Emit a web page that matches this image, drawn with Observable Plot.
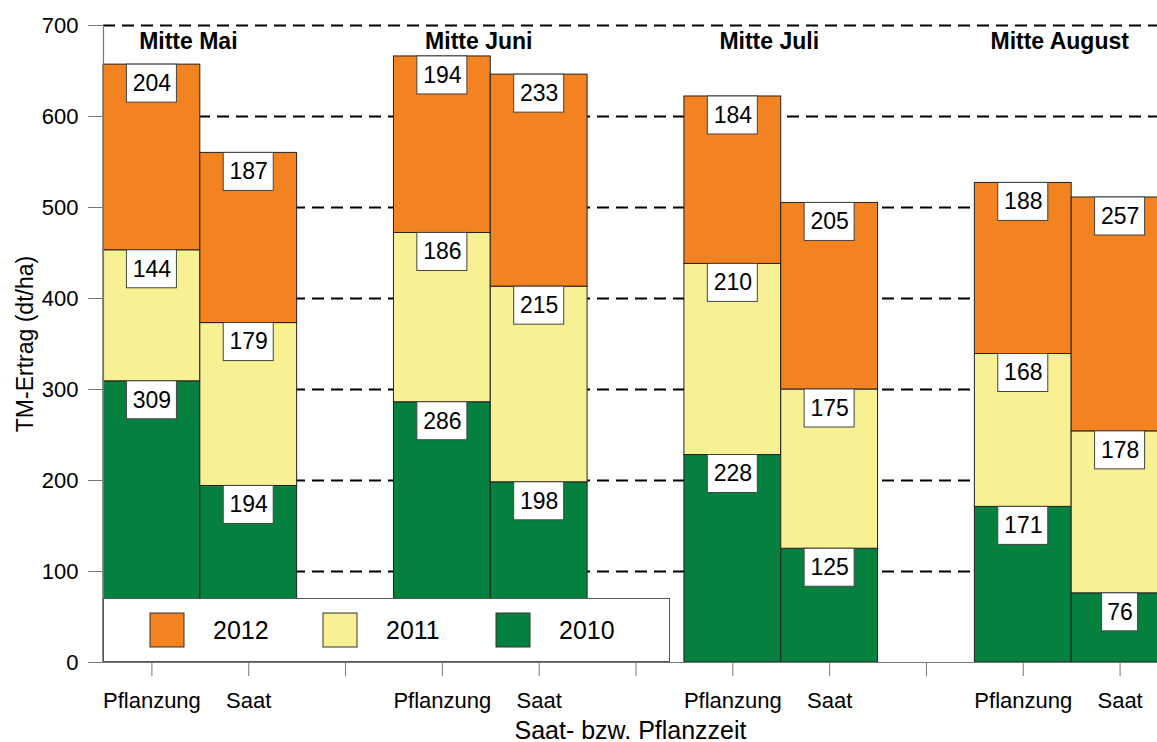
<!DOCTYPE html>
<html><head><meta charset="utf-8">
<script src="https://cdn.jsdelivr.net/npm/d3@7"></script>
<script src="https://cdn.jsdelivr.net/npm/@observablehq/plot@0.6"></script>
<style>
body{margin:0;background:#fff;font-family:"Liberation Sans",Arial,sans-serif;}
#wrap{position:relative;width:1157px;height:742px;overflow:hidden;}
#legend{position:absolute;left:103px;top:598px;width:567px;height:64px;box-sizing:border-box;border:1px solid #555;background:#fff;display:flex;align-items:center;padding-left:46px;}
#legend .lg-swatches{margin:0;font-family:"Liberation Sans",Arial,sans-serif;font-size:25px;color:#000;min-height:0;}
#legend .lg-swatch{margin:0;width:173px;}
#legend .lg-swatch > svg{margin-right:29px;}
#legend svg rect{stroke:#333;stroke-width:1;}
</style>
</head><body>
<div id="wrap"><div id="chart"></div><div id="legend"></div></div>
<script>
// ---- data ----
const groups = ["Mitte Mai", "Mitte Juni", "Mitte Juli", "Mitte August"];
const methods = ["Pflanzung", "Saat"];
const years = ["2010", "2011", "2012"];
const y2010 = [309, 194, 286, 198, 228, 125, 171, 76];
const y2011 = [144, 179, 186, 215, 210, 175, 168, 178];
const y2012 = [204, 187, 194, 233, 184, 205, 188, 257];
const yTicks = [0, 100, 200, 300, 400, 500, 600, 700];
const yTitle = "TM-Ertrag (dt/ha)";
const xTitle = "Saat- bzw. Pflanzzeit";
const colors = {"2010": "#04803F", "2011": "#F7F194", "2012": "#F38220"};

// ---- build table ----
const series = {"2010": y2010, "2011": y2011, "2012": y2012};
const rows = [];
const slotLabels = [];
for (let b = 0; b < y2010.length; b++) {
  const g = Math.floor(b / 2), m = b % 2, slot = 3 * g + m;
  let base = 0;
  for (const yr of years) {
    const v = series[yr][b];
    rows.push({slot, year: yr, value: v, bottom: base, top: base + v});
    base += v;
  }
}
const nSlots = 3 * groups.length - 1;
for (let s = 0; s < nSlots; s++) slotLabels.push(s % 3 === 2 ? "" : methods[s % 3]);

const font = '"Liberation Sans", Arial, sans-serif';
const boxMark = (filter, inset) => Plot.rect(rows.filter(filter), {
  x1: d => d.slot - 0.5, x2: d => d.slot + 0.5, y1: "top", y2: "top",
  insetLeft: inset, insetRight: inset, insetBottom: -38,
  fill: "white", stroke: "#444", strokeWidth: 1
});

const chart = Plot.plot({
  width: 1157, height: 742,
  marginLeft: 103, marginRight: 0, marginTop: 25, marginBottom: 80,
  x: {type: "linear", domain: [-0.5, nSlots - 0.5], range: [103, 1168]},
  y: {domain: [0, 700], range: [662, 25]},
  color: {domain: years, range: years.map(y => colors[y])},
  style: {fontFamily: font, fontSize: "22px", color: "#000", background: "#fff"},
  marks: [
    Plot.ruleY(yTicks.filter(t => t > 0), {stroke: "#000", strokeWidth: 1.8, strokeDasharray: "12,7"}),
    Plot.rect(rows, {x1: d => d.slot - 0.5, x2: d => d.slot + 0.5, y1: "bottom", y2: "top", fill: "year", stroke: "#222", strokeWidth: 1}),
    boxMark(d => d.value >= 100, 23.4),
    boxMark(d => d.value < 100, 30.4),
    Plot.text(rows, {x: "slot", y: "top", dy: 19, text: d => String(d.value), fontSize: 23, fill: "#000"}),
    Plot.text(groups, {x: (d, i) => 3 * i + 0.5, frameAnchor: "top", dy: 7, dx: -12, text: d => d, fontWeight: "bold", fontSize: 23, fill: "#000"}),
    Plot.ruleY([0], {stroke: "#777", strokeWidth: 1.2}),
    Plot.ruleX([-0.5], {stroke: "#777", strokeWidth: 1.2}),
    Plot.axisY({ticks: yTicks, tickSize: 15, tickPadding: 10, fontSize: 22, stroke: "#777", label: null}),
    Plot.axisX({ticks: d3.range(nSlots), tickFormat: i => slotLabels[i], tickSize: 14, tickPadding: 16, fontSize: 22, stroke: "#777", label: null}),
    Plot.text([yTitle], {frameAnchor: "left", dx: -78, rotate: -90, textAnchor: "middle", lineAnchor: "middle", text: d => d, fontSize: 23, fill: "#000"}),
    Plot.text([xTitle], {frameAnchor: "bottom", dy: 68, lineAnchor: "middle", text: d => d, fontSize: 25, fill: "#000"})
  ]
});
document.getElementById("chart").appendChild(chart);

const legend = Plot.legend({
  color: {domain: ["2012", "2011", "2010"], range: ["2012", "2011", "2010"].map(y => colors[y])},
  legend: "swatches", swatchSize: 34, className: "lg"
});
document.getElementById("legend").appendChild(legend);
</script>
</body></html>
